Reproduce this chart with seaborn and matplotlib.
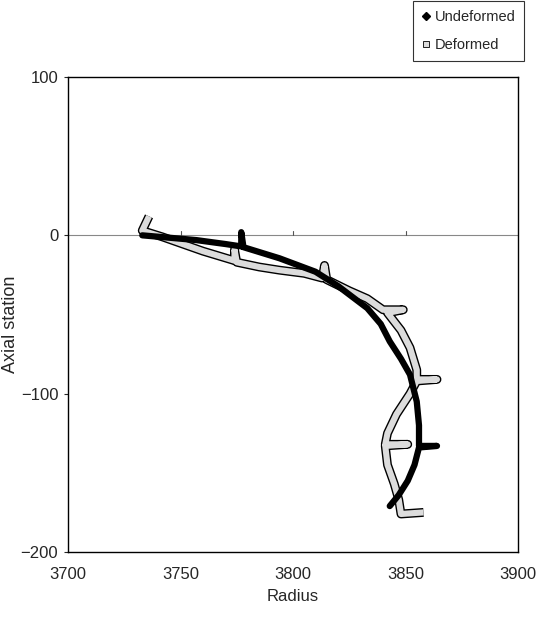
import matplotlib
matplotlib.use("Agg")
import matplotlib.pyplot as plt
import seaborn as sns
import pandas as pd
from matplotlib.lines import Line2D
import matplotlib.patheffects as pe

sns.set_style("white")
plt.rcParams['font.family'] = ['Liberation Sans', 'DejaVu Sans']

# Undeformed shape (radius, axial station)
undef_radius = [3733, 3745, 3757, 3770, 3777, 3777, 3778, 3794, 3810, 3820, 3833, 3839,
                3843, 3848, 3852, 3855, 3856, 3856, 3864, 3856, 3854, 3851, 3847, 3843]
undef_axial = [0, -1.5, -3, -5.5, -7, 2, -7.5, -14.5, -23, -32, -46, -56,
               -67, -78, -88, -105, -120, -133, -133, -134, -145, -155, -164, -171]

# Deformed shape (radius, axial station)
def_radius = [3736, 3733, 3742, 3750, 3760, 3774, 3774, 3775, 3785, 3794, 3805, 3813,
              3814, 3815, 3825, 3833, 3840, 3849, 3842, 3848, 3852, 3855, 3855, 3864,
              3855, 3852, 3846, 3842, 3841, 3851, 3841, 3842, 3845, 3847, 3848, 3858]
def_axial = [12, 3, -1, -5, -10, -16, -9, -17, -20, -22, -24, -27,
             -19, -28, -35, -40, -47, -47, -49, -60, -71, -85, -91, -91,
             -92, -100, -113, -125, -132, -132, -133, -145, -157, -167, -176, -175]

x_ticks = [3700, 3750, 3800, 3850, 3900]
y_ticks = [-200, -100, 0, 100]

fig = plt.figure(figsize=(5.47, 6.21), dpi=100)
ax = fig.add_axes([68/547, 1-552/621, 450/547, 475/621])

# axis line at 0 with small ticks
ax.axhline(0, color="#888888", lw=0.8, zorder=1)
for xt in x_ticks[1:-1]:
    ax.plot([xt, xt], [0, 2.5], color="#555555", lw=0.8, zorder=1)

df_def = pd.DataFrame({"Radius": def_radius, "Axial": def_axial})
df_und = pd.DataFrame({"Radius": undef_radius, "Axial": undef_axial})

sns.lineplot(data=df_def, x="Radius", y="Axial", sort=False, estimator=None, ax=ax,
             color="#dcdcdc", lw=4.4, solid_capstyle="butt", solid_joinstyle="round",
             path_effects=[pe.Stroke(linewidth=6.4, foreground="black", joinstyle="round"),
                           pe.Normal()], zorder=3)
sns.lineplot(data=df_und, x="Radius", y="Axial", sort=False, estimator=None, ax=ax,
             color="black", lw=4.5, solid_capstyle="round", solid_joinstyle="round", zorder=4)

ax.set_xlim(3700, 3900)
ax.set_ylim(-200, 100)
ax.set_xticks(x_ticks)
ax.set_yticks(y_ticks)
ax.set_xticklabels([str(v) for v in x_ticks], fontsize=12)
ax.set_yticklabels([str(v).replace("-", "\u2212") for v in y_ticks], fontsize=12)
ax.tick_params(axis="x", length=0, pad=11)
ax.tick_params(axis="y", length=3, direction="out", pad=4, left=True)
for s in ax.spines.values():
    s.set_color("black")
    s.set_linewidth(1.0)

ax.set_xlabel("Radius", fontsize=12, labelpad=5)
ax.set_ylabel("Axial station", fontsize=13)
ax.yaxis.set_label_coords(-0.108, 0.48)

handles = [Line2D([], [], marker="D", color="black", ls="none", markersize=4),
           Line2D([], [], marker="s", markerfacecolor="#dcdcdc", markeredgecolor="black",
                  ls="none", markersize=5, markeredgewidth=0.6)]
leg = fig.legend(handles, ["Undeformed", "Deformed"], loc="upper right",
                 bbox_to_anchor=(524/547, 1-1/621), frameon=True, fancybox=False,
                 fontsize=10.5, handlelength=0.6, handletextpad=0.3, borderpad=0.6,
                 labelspacing=1.0, borderaxespad=0)
leg.get_frame().set_edgecolor("black")
leg.get_frame().set_linewidth(0.8)

fig.savefig("out.png", dpi=100)
